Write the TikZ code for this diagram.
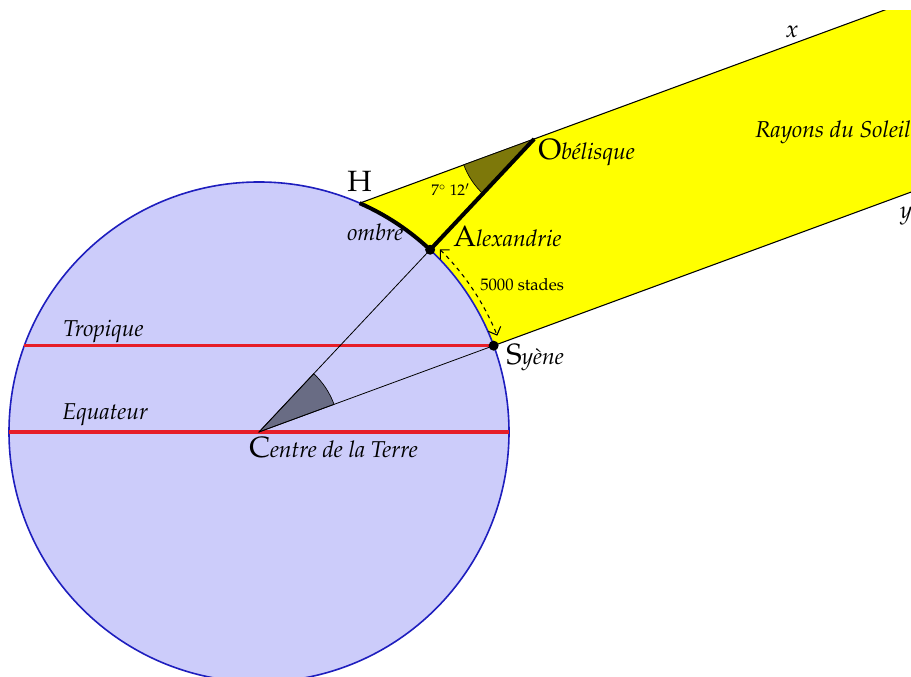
\documentclass[tikz,border=0pt]{standalone}
\usepackage[T1]{fontenc}
\usepackage{mathpazo}
\usetikzlibrary{calc,arrows.meta}
\definecolor{earth}{RGB}{204,204,250}
\definecolor{earthline}{RGB}{30,30,190}
\definecolor{sun}{RGB}{255,255,0}
\definecolor{trop}{RGB}{230,30,40}
\definecolor{olivesec}{RGB}{125,120,10}
\definecolor{centersec}{RGB}{105,108,132}
\newcommand\initlab[2]{{\fontsize{22}{22}\selectfont #1}{\fontsize{17.2}{17.2}\selectfont\itshape #2}}
\begin{document}
\begin{tikzpicture}[x=0.75pt,y=0.75pt,
  lbl/.style={inner sep=0pt, anchor=base west},
  itl/.style={lbl, font=\fontsize{17.2}{17.2}\selectfont\itshape},
  small/.style={lbl, font=\fontsize{12.5}{12.5}\selectfont},
  ray/.style={black, line width=0.8pt},
  radius line/.style={black, line width=0.6pt},
  thickblk/.style={black, line width=3pt},
  redline/.style={trop, line width=2.2pt}]
\useasboundingbox (0,0) rectangle (911,677);
\coordinate (C) at (259,245);
\coordinate (A) at ($(C)+(46.8:250)$);
\coordinate (S) at ($(C)+(20.2:250)$);
\coordinate (H) at ($(C)+(66.25:250)$);
\coordinate (O) at ($(C)+(46.8:402)$);
\coordinate (Tl) at ($(C)+(159.8:250)$);
\coordinate (El) at ($(C)+(180:250)$);
\coordinate (Er) at ($(C)+(0:250)$);
\coordinate (Xe) at ($(H)+(20.2:700)$);
\coordinate (Ye) at ($(S)+(20.2:700)$);
% sun band
\begin{scope}
  \clip (0,0) rectangle (911,666);
  \fill[sun] (H) -- (Xe) -- (Ye) -- (S) arc[start angle=20.2, end angle=66.25, radius=250] -- cycle;
  \draw[ray] (H) -- (Xe);
  \draw[ray] (S) -- (Ye);
\end{scope}
% earth
\draw[earthline, fill=earth, line width=1.2pt] (C) circle[radius=250];
\draw[redline] (Tl) -- (S);
\draw[redline, line width=2.6pt] (El) -- (Er);
% angle at centre
\filldraw[fill=centersec, draw=black, line width=0.5pt] (C) -- ($(C)+(20.2:80)$) arc[start angle=20.2, end angle=46.8, radius=80] -- cycle;
\draw[radius line] (C) -- (A);
\draw[radius line] (C) -- (S);
% angle at obelisk
\filldraw[fill=olivesec, draw=black, line width=0.5pt] (O) -- ($(O)+(200.2:75)$) arc[start angle=200.2, end angle=226.8, radius=75] -- cycle;
% shadow and obelisk
\draw[thickblk] (A) arc[start angle=46.8, end angle=66.25, radius=250];
\draw[thickblk] (A) -- (O);
% distance arrow
\draw[black, line width=0.8pt, dashed, {Straight Barb[length=5pt]}-{Straight Barb[length=5pt]}] ($(C)+(45.3:257)$) arc[start angle=45.3, end angle=22, radius=257];
% points
\fill (A) circle[radius=5];
\fill (S) circle[radius=5];
% labels
\node[lbl, font=\fontsize{22}{22}\selectfont] (hlab) at (347,485) {H};
\node[itl] (ombre) at (347,436) {ombre};
\node[lbl] (alab) at (453,430) {\initlab{A}{lexandrie}};
\node[lbl] (olab) at (538,517) {\initlab{O}{b\'elisque}};
\node[lbl] (slab) at (506,312) {\initlab{S}{y\`ene}};
\node[lbl] (clab) at (249,219) {\initlab{C}{entre de la Terre}};
\node[itl] (trop) at (63,340) {Tropique};
\node[itl] (equ) at (62,257) {Equateur};
\node[small] (dist) at (480,386) {5000 stades};
\node[lbl, font=\fontsize{11.5}{11.5}\selectfont] (ang) at (431,481) {7$^\circ$ 12$'$};
\node[itl] (rays) at (755,539) {Rayons du Soleil};
\node[font=\fontsize{18}{18}\selectfont, inner sep=0pt] (xl) at (792,645) {$x$};
\node[font=\fontsize{18}{18}\selectfont, inner sep=0pt] (yl) at (906,461) {$y$};
\end{tikzpicture}
\end{document}
